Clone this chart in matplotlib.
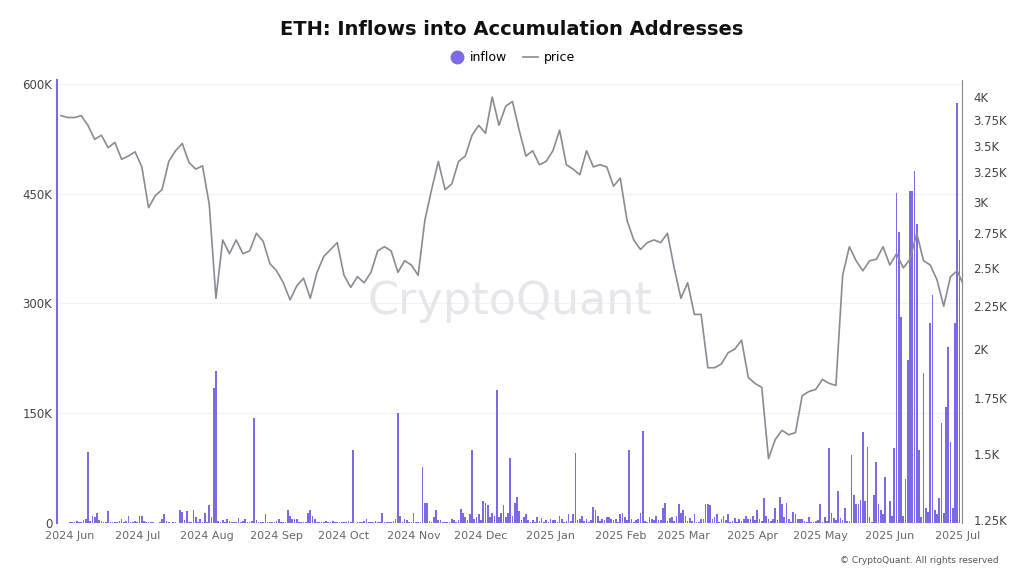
import matplotlib
matplotlib.use("Agg")
import matplotlib.pyplot as plt
import matplotlib.dates as mdates
import matplotlib.ticker as mticker
import numpy as np
import pandas as pd
from matplotlib.lines import Line2D

# ---- price (USD), every 3 days from 2024-05-28 ----
price_start = "2024-05-28"
price = [3800, 3780, 3780, 3800, 3700, 3560, 3600, 3480, 3530, 3370, 3400, 3440,
         3300, 2950, 3050, 3100, 3350, 3450, 3520, 3340, 3280, 3310, 2980, 2300,
         2700, 2600, 2700, 2600, 2620, 2750, 2690, 2530, 2480, 2400, 2290, 2380,
         2430, 2300, 2470, 2580, 2630, 2680, 2450, 2370, 2440, 2400, 2470, 2620,
         2650, 2620, 2470, 2550, 2520, 2450, 2850, 3100, 3350, 3100, 3150, 3350,
         3400, 3600, 3700, 3620, 4000, 3700, 3900, 3950, 3650, 3400, 3450, 3320,
         3350, 3450, 3650, 3320, 3280, 3230, 3450, 3300, 3320, 3300, 3130, 3200,
         2850, 2700, 2630, 2680, 2700, 2680, 2750, 2500, 2300, 2400, 2200, 2200,
         1900, 1900, 1920, 1980, 2000, 2050, 1850, 1820, 1800, 1480, 1560, 1600,
         1580, 1590, 1760, 1780, 1790, 1840, 1820, 1810, 2450, 2650, 2550, 2480,
         2550, 2560, 2650, 2520, 2600, 2500, 2560, 2750, 2550, 2520, 2420, 2250,
         2440, 2480, 2380]

# ---- daily inflow (K ETH), base values per month ----
inflow_months = {
    "2024-06-01": [1,2,1,3,2,2,4,6,0,3,10,8,14,4,3,2,1,16,2,1,2,1,3,5,2,3,10,2,1,3],
    "2024-07-01": [1,10,9,3,2,1,1,1,0,0,2,5,12,3,1,0,1,2,0,18,15,4,16,2,1,18,8,2,6,1,14],
    "2024-08-01": [2,24,8,0,0,3,2,4,1,6,3,2,1,1,7,1,3,5,2,2,3,0,4,1,1,2,12,2,2,1,1],
    "2024-09-01": [3,5,1,2,1,18,10,5,6,6,2,1,1,2,13,18,9,5,2,1,1,1,3,1,1,3,1,2,1,2],
    "2024-10-01": [1,2,3,1,2,0,1,2,1,3,6,2,1,1,3,2,1,14,2,1,1,1,3,5,0,10,2,6,4,2,2],
    "2024-11-01": [14,1,2,1,0,28,28,3,2,8,18,4,4,1,1,2,2,6,4,2,4,19,14,8,4,12,0,6,8,12],
    "2024-12-01": [4,30,28,24,8,13,9,0,8,14,24,8,14,0,10,28,35,16,4,8,12,4,1,4,1,8,3,7,2,4,2],
    "2025-01-01": [6,4,4,2,10,6,2,3,12,3,12,0,4,6,10,3,5,2,4,22,18,10,3,6,4,8,8,5,4,6,1],
    "2025-02-01": [12,14,8,4,0,5,2,4,5,14,0,3,2,8,6,4,10,4,4,20,28,3,7,8,3,10,26,14],
    "2025-03-01": [18,9,3,7,3,12,2,2,5,6,26,26,24,5,8,12,2,6,9,4,12,2,3,7,2,6,3,6,10,5,6],
    "2025-04-01": [9,4,18,5,3,34,10,6,3,6,20,4,35,26,8,28,6,2,15,12,5,5,6,3,2,8,2,1,3,4],
    "2025-05-01": [26,2,8,3,0,14,7,4,44,7,4,20,3,3,0,38,26,26,32,0,30,0,8,2,38,0,26,18,12,4,0],
    "2025-06-01": [30,10,0,0,0,0,10,60,0,0,0,0,0,100,8,0,20,15,0,0,18,12,34,0,14,0,0,0,20,0],
    "2025-07-01": [0,0],
}
spike_dates = ["2024-06-09", "2024-08-04", "2024-08-05", "2024-08-22", "2024-10-05",
               "2024-10-25", "2024-11-05", "2024-11-27", "2024-12-08", "2024-12-14",
               "2025-01-12", "2025-02-05", "2025-02-11", "2025-05-05", "2025-05-15",
               "2025-05-20", "2025-05-22", "2025-05-26", "2025-05-30", "2025-06-03",
               "2025-06-04", "2025-06-05", "2025-06-06", "2025-06-09", "2025-06-10",
               "2025-06-11", "2025-06-12", "2025-06-13", "2025-06-16", "2025-06-19",
               "2025-06-20", "2025-06-24", "2025-06-26", "2025-06-27", "2025-06-28",
               "2025-06-30", "2025-07-01", "2025-07-02"]
spike_values = [97, 185, 207, 143, 100, 150, 76, 100, 182, 89, 95, 100, 125, 102, 93,
                124, 104, 83, 63, 102, 451, 397, 281, 222, 454, 454, 481, 409, 205, 273,
                311, 136, 158, 240, 110, 273, 574, 387]

# ---- build series ----
s = {}
for start, vals in inflow_months.items():
    d0 = pd.Timestamp(start)
    for i, v in enumerate(vals):
        s[d0 + pd.Timedelta(days=i)] = v
for d, v in zip(spike_dates, spike_values):
    s[pd.Timestamp(d)] = v
inflow = pd.Series(s).sort_index() * 1000
price_dates = pd.date_range(price_start, periods=len(price), freq="3D")

fig = plt.figure(figsize=(10.24, 5.76), dpi=100)
ax = fig.add_axes([0.0557, 0.092, 0.884, 0.769])
ax2 = ax.twinx()

bar_col = "#7b6ae6"
ax.bar(inflow.index, inflow.values, width=0.75, color=bar_col, zorder=2)
ax.set_ylim(0, 605000)
ax.set_yticks([0, 150000, 300000, 450000, 600000])
ax.yaxis.set_major_formatter(mticker.FuncFormatter(lambda v, p: "0" if v == 0 else f"{int(v/1000)}K"))
ax.grid(axis="y", color="#f2f2f2", lw=0.8, zorder=0)
ax.set_axisbelow(True)

ax2.plot(price_dates, price, color="#8a8a94", lw=1.2, zorder=3)
ax2.set_yscale("log")
ax2.set_ylim(1240, 4190)
rt = [1250, 1500, 1750, 2000, 2250, 2500, 2750, 3000, 3250, 3500, 3750, 4000]
ax2.yaxis.set_major_locator(mticker.FixedLocator(rt))
ax2.yaxis.set_minor_locator(mticker.NullLocator())
ax2.yaxis.set_major_formatter(mticker.FuncFormatter(
    lambda v, p: f"{v/1000:g}K"))

ax.set_xlim(pd.Timestamp("2024-05-26 06:00"), pd.Timestamp("2025-07-03 06:00"))
ax.xaxis.set_major_locator(mdates.MonthLocator())
ax.xaxis.set_major_formatter(mdates.DateFormatter("%Y %b"))

for a in (ax, ax2):
    a.spines["top"].set_visible(False)
    a.tick_params(length=0, labelsize=8.5, colors="#444444")
ax.tick_params(axis="x", labelsize=8, colors="#666666", pad=6)
ax.spines["bottom"].set_visible(False)
ax2.spines["bottom"].set_visible(False)
ax2.spines["left"].set_color(bar_col)
ax2.spines["left"].set_linewidth(1.5)
ax2.spines["right"].set_color("#888888")
ax.spines["left"].set_visible(False)
ax.spines["right"].set_visible(False)
ax2.tick_params(axis="y", pad=8)

ax.text(0.5, 0.5, "CryptoQuant", transform=ax.transAxes, ha="center", va="center",
        fontsize=32, color="#e6e6ec", zorder=1)
fig.text(0.5, 0.948, "ETH: Inflows into Accumulation Addresses", ha="center",
         va="center", fontsize=14, fontweight="bold", color="#111111")
handles = [Line2D([0], [0], marker="o", ls="none", color=bar_col, markersize=9),
           Line2D([0], [0], color="#8a8a94", lw=1.2)]
fig.legend(handles, ["inflow", "price"], loc="center", bbox_to_anchor=(0.5, 0.9),
           ncol=2, frameon=False, fontsize=9, handlelength=1.2, columnspacing=1.2,
           handletextpad=0.5)
fig.text(0.975, 0.027, "© CryptoQuant. All rights reserved", ha="right", va="center",
         fontsize=6.5, color="#555555")
fig.savefig("out.png", dpi=100)
